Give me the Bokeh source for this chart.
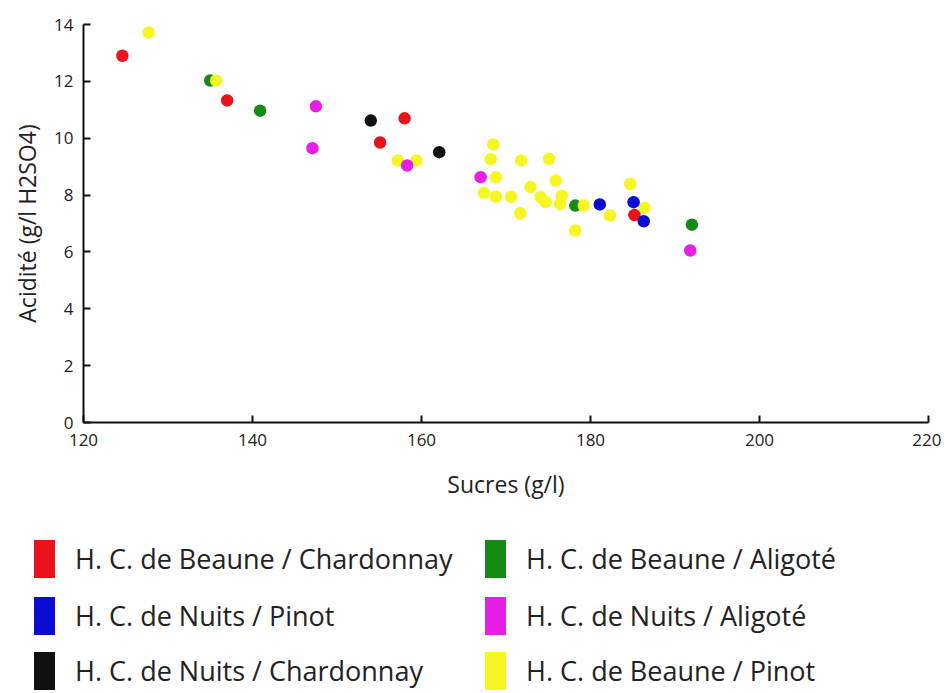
from bokeh.plotting import figure
from bokeh.layouts import column
from bokeh.models import Range1d, FixedTicker, Div
from bokeh.embed import file_html
from bokeh.resources import INLINE

# ---- data -------------------------------------------------------------
series_names = [
    "H. C. de Beaune / Chardonnay",
    "H. C. de Beaune / Aligoté",
    "H. C. de Nuits / Pinot",
    "H. C. de Nuits / Aligoté",
    "H. C. de Nuits / Chardonnay",
    "H. C. de Beaune / Pinot",
]
series_colors = ["#e8141b", "#158a15", "#0c0cd2", "#e61ee6", "#111111", "#f6f622"]

beaune_chardonnay_x = [124.6, 137.0, 158.0, 155.1, 185.2]
beaune_chardonnay_y = [12.9, 11.33, 10.7, 9.85, 7.3]

beaune_aligote_x = [135.0, 140.9, 178.2, 192.0]
beaune_aligote_y = [12.03, 10.97, 7.63, 6.96]

nuits_pinot_x = [181.1, 185.1, 186.3]
nuits_pinot_y = [7.67, 7.75, 7.08]

nuits_aligote_x = [147.5, 147.1, 158.3, 167.0, 191.8]
nuits_aligote_y = [11.12, 9.65, 9.04, 8.63, 6.05]

nuits_chardonnay_x = [154.0, 162.1]
nuits_chardonnay_y = [10.62, 9.51]

beaune_pinot_x = [127.7, 135.7, 157.2, 159.4, 168.5, 168.2, 171.8, 175.1, 168.8,
                  175.9, 167.4, 168.8, 170.6, 172.9, 174.1, 174.7, 176.6, 176.4,
                  179.2, 171.7, 182.3, 178.2, 184.7, 186.4]
beaune_pinot_y = [13.72, 12.03, 9.22, 9.22, 9.78, 9.26, 9.22, 9.27, 8.63,
                  8.51, 8.08, 7.94, 7.94, 8.28, 7.93, 7.75, 7.98, 7.69,
                  7.63, 7.36, 7.28, 6.75, 8.39, 7.55]

x_ticks = [120, 140, 160, 180, 200, 220]
y_ticks = [0, 2, 4, 6, 8, 10, 12, 14]
x_title = "Sucres (g/l)"
y_title = "Acidité (g/l H2SO4)"

# ---- main plot ----------------------------------------------------------
FONT = "Open Sans"
TXT = "#222222"
W = 941

p = figure(width=W, height=505, output_backend="svg", toolbar_location=None,
           x_range=Range1d(120, 220), y_range=Range1d(0, 14),
           min_border_left=83, min_border_right=13, min_border_top=24,
           min_border_bottom=83)
p.outline_line_color = None
p.grid.visible = False
p.background_fill_color = "white"
p.border_fill_color = "white"

xs = [beaune_chardonnay_x, beaune_aligote_x, nuits_pinot_x, nuits_aligote_x,
      nuits_chardonnay_x, beaune_pinot_x]
ys = [beaune_chardonnay_y, beaune_aligote_y, nuits_pinot_y, nuits_aligote_y,
      nuits_chardonnay_y, beaune_pinot_y]

# draw order (later on top)
order = [1, 5, 0, 3, 4, 2]
for i in order:
    p.scatter(xs[i], ys[i], size=12.5, marker="circle",
              fill_color=series_colors[i], line_color=None)

p.xaxis.ticker = FixedTicker(ticks=x_ticks)
p.yaxis.ticker = FixedTicker(ticks=y_ticks)
for ax in (p.xaxis, p.yaxis):
    ax.axis_line_width = 2
    ax.axis_line_color = "#111111"
    ax.major_tick_line_width = 2
    ax.major_tick_line_color = "#111111"
    ax.major_tick_in = 7
    ax.major_tick_out = 0
    ax.minor_tick_line_color = None
    ax.major_label_text_font = FONT
    ax.major_label_text_font_size = "17px"
    ax.major_label_text_color = TXT
    ax.axis_label_text_font = FONT
    ax.axis_label_text_font_size = "23px"
    ax.axis_label_text_font_style = "normal"
    ax.axis_label_text_color = TXT
p.xaxis.axis_label = x_title
p.yaxis.axis_label = y_title
p.xaxis.major_label_standoff = 11
p.yaxis.major_label_standoff = 10
p.xaxis.axis_label_standoff = 19
p.yaxis.axis_label_standoff = 8

# ---- legend (HTML block under the chart, two columns) -------------------
LH = 185
col_left = [34, 485]
row_center = [54, 111, 166]
SW, SH = 21, 38
parts = []
for k, (name, color) in enumerate(zip(series_names, series_colors)):
    c, r = k % 2, k // 2
    top = row_center[r] - SH // 2
    parts.append(
        f'<div style="position:absolute;left:{col_left[c]}px;top:{top}px;'
        f'width:{SW}px;height:{SH}px;background:{color};"></div>')
    parts.append(
        f'<div style="position:absolute;left:{col_left[c] + 41}px;top:{top}px;'
        f'height:{SH}px;line-height:{SH}px;white-space:nowrap;'
        f"font-family:'{FONT}';font-size:27px;color:{TXT};\">{name}</div>")
html = (f'<div style="position:relative;width:{W}px;height:{LH}px;'
        f'background:white;">' + "".join(parts) + "</div>")
leg = Div(text=html, width=W, height=LH, margin=(0, 0, 0, 0))

layout = column(p, leg, spacing=0)
open("out.html", "w").write(file_html(layout, INLINE))
